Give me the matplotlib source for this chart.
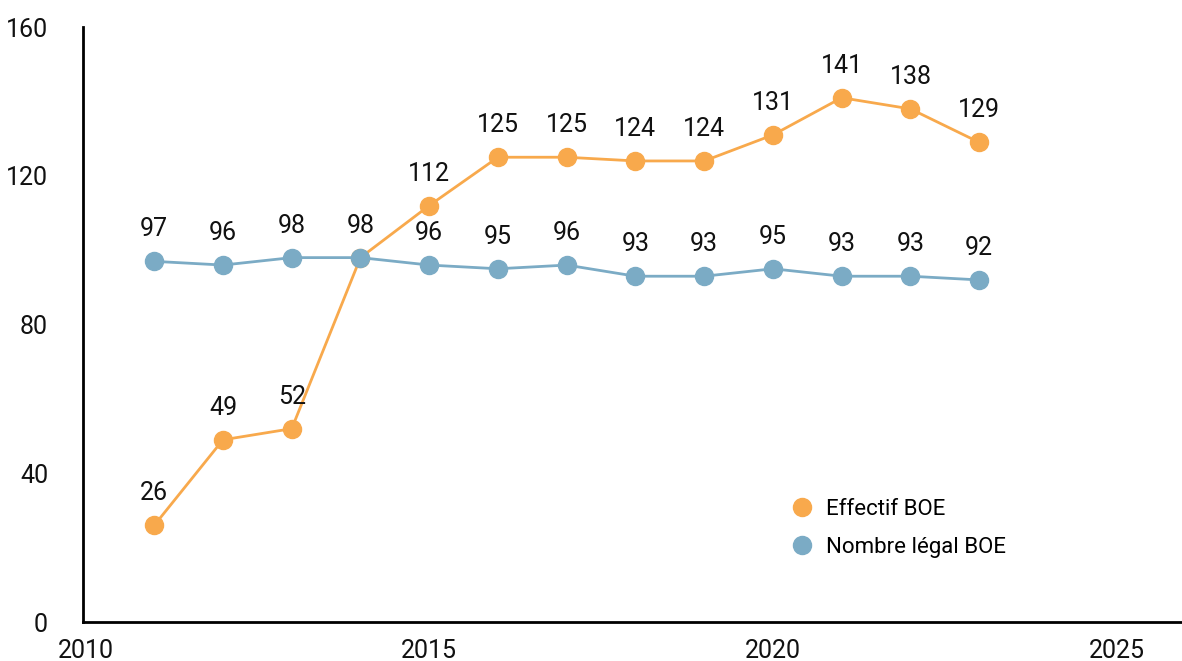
import matplotlib.pyplot as plt

plt.rcParams['font.family'] = ['Roboto', 'DejaVu Sans']

years = [2011, 2012, 2013, 2014, 2015, 2016, 2017, 2018, 2019, 2020, 2021, 2022, 2023]
effectif = [26, 49, 52, 98, 112, 125, 125, 124, 124, 131, 141, 138, 129]
legal = [97, 96, 98, 98, 96, 95, 96, 93, 93, 95, 93, 93, 92]

orange = '#F8A94C'
blue = '#7BABC5'

fig = plt.figure(figsize=(11.82, 6.61), dpi=100)
ax = fig.add_axes([0.070, 0.059, 0.930, 0.900])

ax.plot(years, effectif, color=orange, lw=2, marker='o', ms=13, label='Effectif BOE', zorder=3)
ax.plot(years, legal, color=blue, lw=2, marker='o', ms=13, label='Nombre légal BOE', zorder=3)

for i, (x, y) in enumerate(zip(years, effectif)):
    if years[i] == 2014:
        continue
    ax.annotate(str(y), (x, y), xytext=(0, 23), textcoords='offset points',
                ha='center', va='center', fontsize=18, color='#111111')
for x, y in zip(years, legal):
    ax.annotate(str(y), (x, y), xytext=(0, 23), textcoords='offset points',
                ha='center', va='center', fontsize=18, color='#111111')

ax.set_xlim(2009.96, 2025.95)
ax.set_ylim(0, 160)
ax.set_xticks([2010, 2015, 2020, 2025])
ax.set_yticks([0, 40, 80, 120, 160])
ax.tick_params(length=0, labelsize=18, colors='#111111')
ax.tick_params(axis='y', pad=25)
ax.tick_params(axis='x', pad=12)
for s in ['top', 'right']:
    ax.spines[s].set_visible(False)
for s in ['left', 'bottom']:
    ax.spines[s].set_linewidth(2)
    ax.spines[s].set_color('black')

leg = ax.legend(loc='upper left', bbox_to_anchor=(0.628, 0.24), frameon=False,
                fontsize=16, handlelength=0.8, handletextpad=0.7, labelspacing=0.75,
                markerscale=1.0)
for h in leg.legend_handles:
    h.set_linestyle('none')

fig.savefig('out.png', dpi=100)
